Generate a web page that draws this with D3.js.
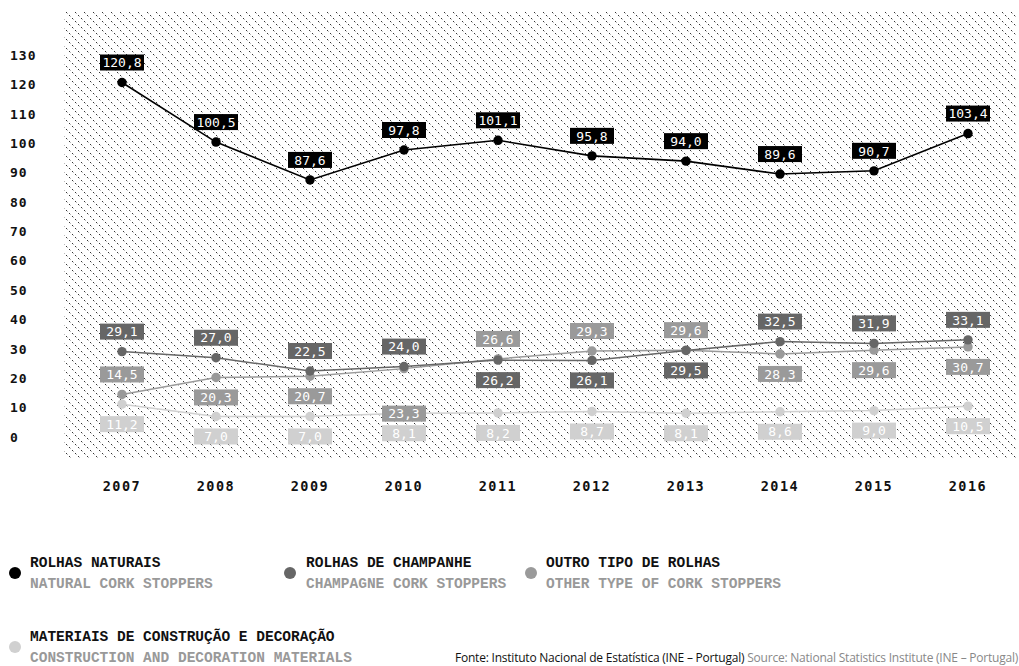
<!DOCTYPE html>
<html><head><meta charset="utf-8">
<script src="https://cdn.jsdelivr.net/npm/d3@7"></script>
<style>
html,body{margin:0;padding:0;background:#fff;}
svg{display:block;}
</style></head>
<body>
<svg id="chart" width="1019" height="666"></svg>
<script>
// ---- data ----
const years = [2007, 2008, 2009, 2010, 2011, 2012, 2013, 2014, 2015, 2016];
const yTicks = [0, 10, 20, 30, 40, 50, 60, 70, 80, 90, 100, 110, 120, 130];
const naturalCork = [120.8, 100.5, 87.6, 97.8, 101.1, 95.8, 94.0, 89.6, 90.7, 103.4];
const champagneCork = [29.1, 27.0, 22.5, 24.0, 26.2, 26.1, 29.5, 32.5, 31.9, 33.1];
const otherCork = [14.5, 20.3, 20.7, 23.3, 26.6, 29.3, 29.6, 28.3, 29.6, 30.7];
const constructionMat = [11.2, 7.0, 7.0, 8.1, 8.2, 8.7, 8.1, 8.6, 9.0, 10.5];
const seriesNamesPT = ["ROLHAS NATURAIS", "ROLHAS DE CHAMPANHE", "OUTRO TIPO DE ROLHAS", "MATERIAIS DE CONSTRUÇÃO E DECORAÇÃO"];
const seriesNamesEN = ["NATURAL CORK STOPPERS", "CHAMPAGNE CORK STOPPERS", "OTHER TYPE OF CORK STOPPERS", "CONSTRUCTION AND DECORATION MATERIALS"];

// ---- label placement (layout, not data): u = above, d = below, dd = further below ----
const labelSides = [
  ["u","u","u","u","u","u","u","u","u","u"],
  ["u","u","u","u","d","d","d","u","u","u"],
  ["u","d","d","dd","u","u","u","d","d","d"],
  ["d","d","d","d","d","d","d","d","d","d"]
];
const colors = ["#000000", "#666666", "#9a9a9a", "#d0d0d0"];

const svg = d3.select("#chart");
const x = d3.scalePoint().domain(years).range([122, 968]);
const y = d3.scaleLinear().domain([0, 130]).range([437, 55.5]);

// hatch pattern: dotted diagonal lines (top-left to bottom-right)
const defs = svg.append("defs");
const T = 9;
const pat = defs.append("pattern").attr("id", "hatch").attr("patternUnits", "userSpaceOnUse")
  .attr("width", T).attr("height", T);
d3.range(T).filter(k => k % 3 !== 2).forEach(k => {
  pat.append("rect").attr("x", k).attr("y", k).attr("width", 1).attr("height", 1)
    .attr("fill", k % 3 === 0 ? "#333" : "#bbb");
});

svg.append("rect").attr("x", 64).attr("y", 12).attr("width", 952).attr("height", 446)
  .attr("fill", "url(#hatch)").attr("shape-rendering", "crispEdges");

// y tick labels
svg.append("g").selectAll("text").data(yTicks).join("text")
  .attr("x", 10).attr("y", d => y(d)).attr("dy", "0.35em")
  .attr("font-family", "DejaVu Sans Mono").attr("font-weight", "bold").attr("font-size", 13)
  .attr("letter-spacing", 1).attr("fill", "#111").text(d => d);

// x labels
svg.append("g").selectAll("text").data(years).join("text")
  .attr("x", d => x(d)).attr("y", 486).attr("dy", "0.35em").attr("text-anchor", "middle")
  .attr("font-family", "DejaVu Sans Mono").attr("font-weight", "bold").attr("font-size", 13.5)
  .attr("letter-spacing", 1.5).attr("fill", "#111").text(d => d);

const allSeries = [naturalCork, champagneCork, otherCork, constructionMat];
const line = d3.line().x((d, i) => x(years[i])).y(d => y(d));

// draw from lightest to darkest so black is on top
const order = [3, 2, 1, 0];
order.forEach(si => {
  svg.append("path").datum(allSeries[si]).attr("d", line)
    .attr("fill", "none").attr("stroke", colors[si]).attr("stroke-width", si === 0 ? 1.6 : 1.5);
});
order.forEach(si => {
  svg.append("g").selectAll("circle").data(allSeries[si]).join("circle")
    .attr("cx", (d, i) => x(years[i])).attr("cy", d => y(d)).attr("r", 4.7).attr("fill", colors[si]);
});
const fmt = v => v.toFixed(1).replace(".", ",");
const dyFor = s => s === "u" ? -20 : s === "d" ? 20 : 45;
order.forEach(si => {
  const g = svg.append("g");
  const lab = g.selectAll("g").data(allSeries[si]).join("g")
    .attr("transform", (d, i) => `translate(${x(years[i])},${y(d) + dyFor(labelSides[si][i])})`);
  lab.append("rect").attr("x", -22).attr("y", -8).attr("width", 44).attr("height", 16).attr("fill", colors[si]);
  lab.append("text").attr("text-anchor", "middle").attr("dy", "0.36em")
    .attr("font-family", "DejaVu Sans Mono").attr("font-size", 13).attr("fill", "#fff").text(d => fmt(d));
});

// legend
const legendPos = [[15, 30, 562], [290, 306, 562], [531, 546, 562], [15, 30, 636]];
legendPos.forEach((p, i) => {
  const g = svg.append("g");
  g.append("circle").attr("cx", p[0]).attr("cy", p[2] + 11).attr("r", 6).attr("fill", colors[i]);
  g.append("text").attr("x", p[1]).attr("y", p[2]).attr("dy", "0.35em")
    .attr("font-family", "Liberation Mono").attr("font-weight", "bold").attr("font-size", 14.5)
    .attr("fill", "#111").text(seriesNamesPT[i]);
  g.append("text").attr("x", p[1]).attr("y", p[2] + 21).attr("dy", "0.35em")
    .attr("font-family", "Liberation Mono").attr("font-weight", "bold").attr("font-size", 14.5)
    .attr("fill", "#999").text(seriesNamesEN[i]);
});

// source
const src = svg.append("text").attr("x", 455).attr("y", 658).attr("dy", "0.35em")
  .attr("font-family", "Open Sans").attr("font-size", 12).attr("letter-spacing", -0.22);
src.append("tspan").attr("fill", "#111").text("Fonte: Instituto Nacional de Estatística (INE – Portugal) ");
src.append("tspan").attr("fill", "#888").text("Source: National Statistics Institute (INE – Portugal)");
</script>
</body></html>
